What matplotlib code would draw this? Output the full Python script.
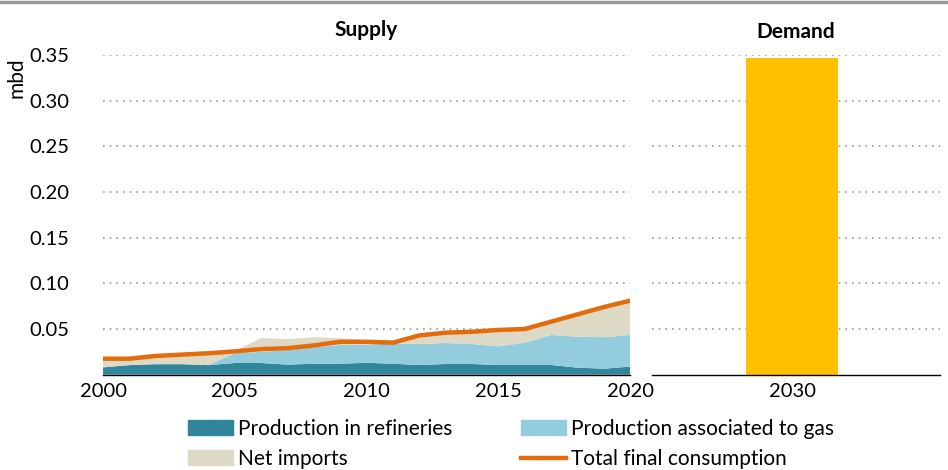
import matplotlib.pyplot as plt
from matplotlib.patches import Patch
from matplotlib.lines import Line2D
import numpy as np

plt.rcParams['font.family'] = ['Lato', 'DejaVu Sans']

years = np.arange(2000, 2021)
refineries = [0.0080, 0.0105, 0.0115, 0.0115, 0.0105, 0.0128, 0.0128, 0.0110, 0.0120, 0.0120, 0.0130,
              0.0120, 0.0106, 0.0117, 0.0117, 0.0106, 0.0106, 0.0106, 0.0077, 0.0066, 0.0088]
assoc_gas = [0.0, 0.0, 0.0, 0.0, 0.0, 0.0106, 0.0122, 0.0160, 0.0180, 0.0205, 0.0200,
             0.0220, 0.0230, 0.0230, 0.0219, 0.0204, 0.0244, 0.0329, 0.0339, 0.0344, 0.0347]
net_imports = [0.0085, 0.0060, 0.0080, 0.0095, 0.0120, 0.0026, 0.0150, 0.0120, 0.0110, 0.0075, 0.0050,
               0.0040, 0.0084, 0.0103, 0.0124, 0.0170, 0.0140, 0.0125, 0.0224, 0.0310, 0.0355]
total_consumption = [0.0175, 0.0175, 0.0205, 0.0220, 0.0235, 0.0255, 0.0280, 0.0290, 0.0320, 0.0360, 0.0360,
                     0.0350, 0.0430, 0.0460, 0.0470, 0.0490, 0.0500, 0.0580, 0.0660, 0.0740, 0.0810]
demand_year = ['2030']
demand_value = [0.347]

c_ref = '#31869B'
c_gas = '#93CDDD'
c_imp = '#DDD9C4'
c_tot = '#E46C0A'
c_bar = '#FFC000'

fig = plt.figure(figsize=(9.48, 4.70), dpi=100)
ax1 = fig.add_axes([0.1087, 0.2028, 0.5559, 0.6802])
ax2 = fig.add_axes([0.6878, 0.2028, 0.3038, 0.6802])

ax1.stackplot(years, refineries, assoc_gas, net_imports, colors=[c_ref, c_gas, c_imp], lw=0)
ax1.plot(years, total_consumption, color=c_tot, lw=3.2, solid_capstyle='round')
ax1.set_xlim(2000, 2020)
ax1.set_xticks([2000, 2005, 2010, 2015, 2020])
ax1.set_title('Supply', fontsize=15, fontweight='bold', pad=14)
ax1.set_ylabel('mbd', fontsize=15)
ax1.yaxis.set_label_coords(-0.146, 0.93)

ax2.bar(demand_year, demand_value, width=0.96, color=c_bar)
ax2.set_xlim(-1.46, 1.54)
ax2.set_title('Demand', fontsize=15, fontweight='bold', pad=12)

for ax in (ax1, ax2):
    ax.set_ylim(0, 0.35)
    ax.set_yticks([0.05, 0.10, 0.15, 0.20, 0.25, 0.30, 0.35])
    ax.grid(axis='y', color='#999999', linestyle=(0, (1, 3)), lw=1.2)
    ax.set_axisbelow(True)
    for s in ('left', 'right', 'top'):
        ax.spines[s].set_visible(False)
    ax.spines['bottom'].set_color('black')
    ax.spines['bottom'].set_linewidth(1)
    ax.tick_params(length=0, labelsize=14.5)
    ax.tick_params(axis='x', pad=6)

ax1.tick_params(axis='y', pad=24)
ax1.set_yticklabels(['0.05', '0.10', '0.15', '0.20', '0.25', '0.30', '0.35'])
ax2.set_yticklabels([])

handles = [Patch(color=c_ref, label='Production in refineries'),
           Patch(color=c_imp, label='Net imports'),
           Patch(color=c_gas, label='Production associated to gas'),
           Line2D([0], [0], color=c_tot, lw=3.2, label='Total final consumption')]
fig.legend(handles=handles, ncol=2, loc='lower left', bbox_to_anchor=(188 / 948, 1 / 470),
           frameon=False, fontsize=15, handlelength=2.15, handleheight=0.7,
           handletextpad=0.25, columnspacing=3.3, labelspacing=0.5,
           borderpad=0, borderaxespad=0)

fig.add_artist(Line2D([0, 1], [0.996, 0.996], color='#999999', lw=2.5, transform=fig.transFigure))

fig.savefig('out.png', dpi=100)
